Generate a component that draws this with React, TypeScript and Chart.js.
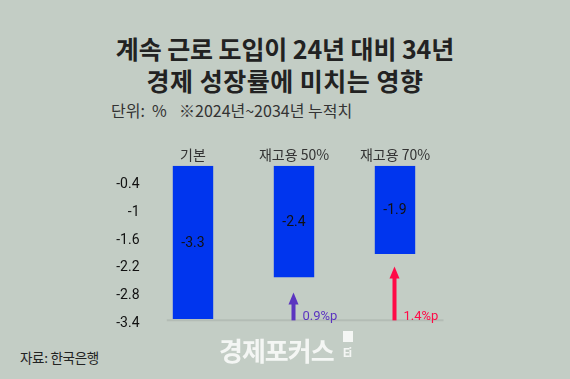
import React, { useEffect, useRef } from "react";
import { Chart, registerables } from "chart.js";

Chart.register(...registerables);

// ---- data ----
const categories = ["기본", "재고용 50%", "재고용 70%"];
const growthValues = [-3.3, -2.4, -1.9];
const arrowTops: (number | null)[] = [null, -2.73, -2.17];
const arrowLabels = ["", "0.9%p", "1.4%p"];
const arrowColors = ["", "#5b34c0", "#ff0a47"];
const yTickValues = [-3.4, -2.8, -2.2, -1.6, -1, -0.4];
const yMin = -3.4;
const yMax = 0;
const baselineValue = -3.33;

const titleLines = ["계속 근로 도입이 24년 대비 34년", "경제 성장률에 미치는 영향"];
const unitLabel = "단위:";
const unitValue = "%";
const noteText = "※2024년~2034년 누적치";
const sourceText = "자료: 한국은행";
const brandText = "경제포커스";

const KR = '"Noto Sans CJK KR", "Noto Sans", sans-serif';
const NUM = 'Roboto, "Liberation Sans", sans-serif';

const overlayPlugin = {
  id: "overlay",
  beforeDatasetsDraw(chart: any) {
    const { ctx, chartArea } = chart;
    const yScale = chart.scales.y;
    const bars = chart.getDatasetMeta(0).data;
    const baseY = yScale.getPixelForValue(baselineValue);
    const first = bars[0];
    ctx.save();
    ctx.strokeStyle = "#b3bcb5";
    ctx.lineWidth = 2;
    ctx.beginPath();
    ctx.moveTo(first.x - first.width / 2 - 6, baseY);
    ctx.lineTo(chartArea.right - 2, baseY);
    ctx.stroke();
    ctx.restore();
  },
  afterDatasetsDraw(chart: any) {
    const { ctx } = chart;
    const yScale = chart.scales.y;
    const bars = chart.getDatasetMeta(0).data;
    const baseY = yScale.getPixelForValue(baselineValue);
    ctx.save();
    ctx.font = `14px ${NUM}`;
    ctx.fillStyle = "#111";
    ctx.textAlign = "center";
    ctx.textBaseline = "middle";
    bars.forEach((bar: any, i: number) => {
      const p = bar.getProps(["x", "y", "base"], true);
      ctx.fillText(String(growthValues[i]), p.x, (p.y + p.base) / 2 + 1);
    });
    arrowTops.forEach((top, i) => {
      if (top === null) return;
      const x = bars[i].x - 0.5;
      const tipY = yScale.getPixelForValue(top);
      const headH = 12;
      const headW = 10;
      ctx.fillStyle = arrowColors[i];
      ctx.fillRect(x - 2, tipY + headH - 1, 4, baseY - tipY - headH + 1);
      ctx.beginPath();
      ctx.moveTo(x, tipY);
      ctx.lineTo(x + headW / 2, tipY + headH);
      ctx.lineTo(x - headW / 2, tipY + headH);
      ctx.closePath();
      ctx.fill();
      ctx.font = `13px ${NUM}`;
      ctx.textAlign = "left";
      ctx.textBaseline = "alphabetic";
      ctx.fillText(arrowLabels[i], x + 9, baseY - 0.5);
    });
    ctx.restore();
  },
};

export default function App() {
  const canvasRef = useRef<HTMLCanvasElement | null>(null);

  useEffect(() => {
    if (!canvasRef.current) return;
    const chart = new Chart(canvasRef.current, {
      type: "bar",
      data: {
        labels: categories,
        datasets: [
          {
            data: growthValues.map((v) => [0, v]) as any,
            backgroundColor: "#0035ee",
            borderWidth: 0,
            categoryPercentage: 0.4,
            barPercentage: 1,
          },
        ],
      },
      options: {
        animation: false,
        responsive: false,
        maintainAspectRatio: false,
        layout: { padding: { left: 0, right: 124.5, top: 0, bottom: 16.4 } },
        plugins: { legend: { display: false }, tooltip: { enabled: false } },
        scales: {
          x: {
            type: "category",
            position: "top",
            grid: { display: false, drawTicks: false },
            border: { display: false },
            ticks: {
              color: "#333",
              font: { family: KR, size: 14 },
              padding: 3,
              maxRotation: 0,
            },
            afterFit: (s: any) => {
              s.height = 45.8;
            },
          },
          y: {
            min: yMin,
            max: yMax,
            grid: { display: false, drawTicks: false },
            border: { display: false },
            ticks: {
              color: "#111",
              font: { family: NUM, size: 14 },
              padding: 3,
              callback: (v: any) => String(Number(v)),
            },
            afterBuildTicks: (s: any) => {
              s.ticks = yTickValues.map((v) => ({ value: v }));
            },
            afterFit: (s: any) => {
              s.width = 142.5;
            },
          },
        },
      },
      plugins: [overlayPlugin],
    });
    return () => chart.destroy();
  }, []);

  const abs = (o: React.CSSProperties): React.CSSProperties => ({
    position: "absolute",
    whiteSpace: "pre",
    margin: 0,
    ...o,
  });

  return (
    <div
      style={{
        position: "absolute",
        left: 0,
        top: 0,
        width: 570,
        height: 379,
        background: "#c3cdc5",
        overflow: "hidden",
        fontFamily: KR,
      }}
    >
      <div
        style={abs({
          left: 0,
          width: 570,
          top: 32.5,
          lineHeight: "30px",
          textAlign: "center",
          fontSize: 25,
          fontWeight: 700,
          color: "#222",
          letterSpacing: "-0.1px",
        })}
      >
        {titleLines[0]}
      </div>
      <div
        style={abs({
          left: 0,
          width: 570,
          top: 65,
          lineHeight: "30px",
          textAlign: "center",
          fontSize: 25,
          fontWeight: 700,
          color: "#222",
          letterSpacing: "0.5px",
        })}
      >
        {titleLines[1]}
      </div>
      <div style={abs({ left: 111, top: 99.5, lineHeight: "20px", fontSize: 16, color: "#333" })}>
        {unitLabel}
      </div>
      <div style={abs({ left: 152, top: 99.5, lineHeight: "20px", fontSize: 16, color: "#333" })}>
        {unitValue}
      </div>
      <div
        style={abs({
          left: 179,
          top: 99.5,
          lineHeight: "20px",
          fontSize: 16,
          color: "#333",
          letterSpacing: "0px",
        })}
      >
        {noteText}
      </div>
      <canvas
        ref={canvasRef}
        width={570}
        height={220}
        style={{ position: "absolute", left: 0, top: 120, width: 570, height: 220 }}
      />
      <div
        style={abs({
          left: 20,
          top: 347,
          lineHeight: "20px",
          fontSize: 13.5,
          color: "#222",
          letterSpacing: "-0.3px",
        })}
      >
        {sourceText}
      </div>
      <div
        style={abs({
          left: 219,
          top: 333,
          lineHeight: "34px",
          fontSize: 26,
          fontWeight: 700,
          color: "#f4f6f4",
          letterSpacing: "-1px",
        })}
      >
        {brandText}
      </div>
      <div style={abs({ left: 343, top: 331, width: 10, height: 11, background: "#f4f6f4" })} />
      <div
        style={abs({
          left: 343,
          top: 343,
          lineHeight: "20px",
          fontSize: 12,
          fontWeight: 700,
          color: "#f4f6f4",
          fontFamily: NUM,
          letterSpacing: "-1px",
        })}
      >
        Ei
      </div>
    </div>
  );
}
